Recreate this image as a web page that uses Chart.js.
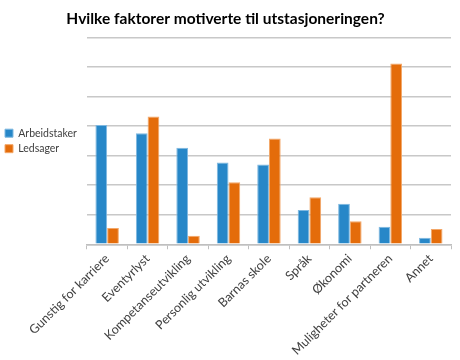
<!DOCTYPE html>
<html>
<head>
<meta charset="utf-8">
<script src="https://cdn.jsdelivr.net/npm/chart.js@4"></script>
<style>
  html, body { margin: 0; padding: 0; background: #fff; }
  #wrap { width: 460px; height: 360px; }
</style>
</head>
<body>
<div id="wrap"><canvas id="grafico"></canvas></div>
<script>
// ================= DADOS =================
const kategorier = [
  "Gunstig for karriere", "Eventyrlyst", "Kompetanseutvikling",
  "Personlig utvikling", "Barnas skole", "Språk", "Økonomi",
  "Muligheter for partneren", "Annet"
];
const arbeidstaker = [40.4, 37.6, 32.7, 27.7, 27.0, 11.6, 13.7, 5.9, 2.2];
const ledsager = [5.5, 43.3, 2.9, 21.0, 35.8, 15.9, 7.8, 61.2, 5.2];
const yMaks = 70;
const ySteg = 10;

const fontFamilie = "Lato, 'Open Sans', sans-serif";

// ================= GRÁFICO =================
let ctx = document.getElementById("grafico");

let chart = new Chart(ctx, {
  type: "bar",
  data: {
    labels: kategorier,
    datasets: [
      {
        label: "Arbeidstaker",
        data: arbeidstaker,
        backgroundColor: "#2787c8",
        borderColor: "#7fb8e0",
        borderWidth: 1,
        barPercentage: 1,
        categoryPercentage: 0.58
      },
      {
        label: "Ledsager",
        data: ledsager,
        backgroundColor: "#e46c0a",
        borderColor: "#f3a768",
        borderWidth: 1,
        barPercentage: 1,
        categoryPercentage: 0.58
      }
    ]
  },
  options: {
    responsive: true,
    maintainAspectRatio: false,
    animation: false,
    layout: { padding: { top: 4, right: 9, bottom: 0, left: 0 } },
    plugins: {
      title: {
        display: true,
        text: "Hvilke faktorer motiverte til utstasjoneringen?",
        color: "#000",
        font: { family: fontFamilie, size: 15.5, weight: "bold" },
        padding: { top: 6, bottom: 9 }
      },
      legend: {
        position: "left",
        fullSize: false,
        labels: {
          color: "#404040",
          boxWidth: 8,
          boxHeight: 8,
          padding: 5,
          font: { family: fontFamilie, size: 10.5 }
        }
      },
      tooltip: { enabled: false }
    },
    scales: {
      x: {
        grid: {
          offset: true,
          drawOnChartArea: false,
          drawTicks: true,
          tickLength: 5,
          color: "#bfbfbf"
        },
        border: { color: "#bfbfbf", width: 1.5 },
        ticks: {
          color: "#404040",
          maxRotation: 45,
          minRotation: 45,
          autoSkip: false,
          padding: 2,
          font: { family: fontFamilie, size: 12.5 }
        }
      },
      y: {
        min: 0,
        max: yMaks,
        ticks: { display: false, stepSize: ySteg },
        border: { display: false },
        grid: { color: "#c8c8c8", lineWidth: 1.5, drawTicks: false }
      }
    }
  }
});
</script>
</body>
</html>
